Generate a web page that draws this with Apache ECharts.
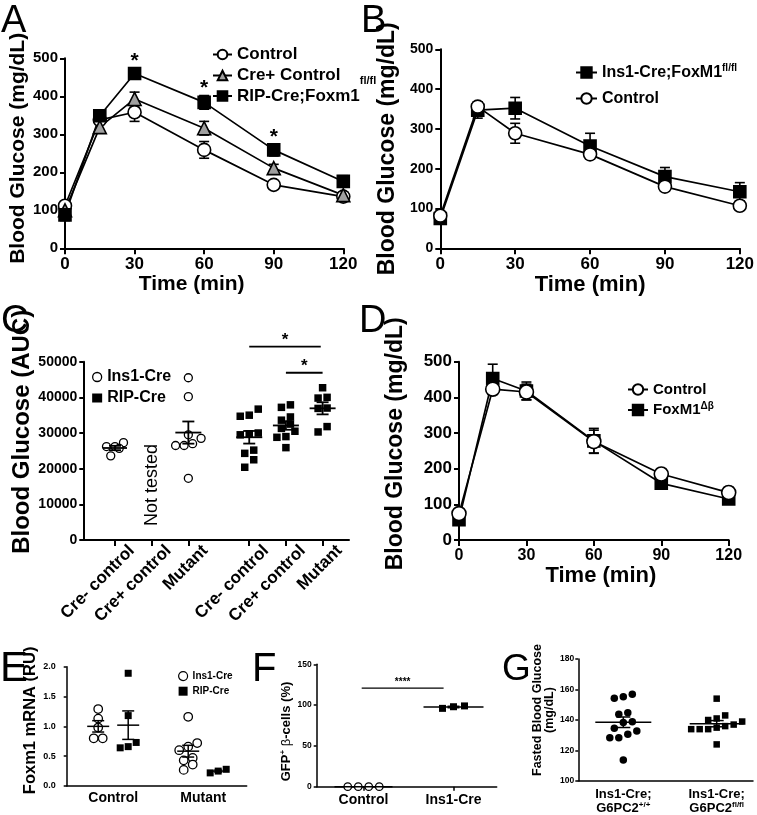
<!DOCTYPE html>
<html><head><meta charset="utf-8">
<script src="https://cdn.jsdelivr.net/npm/echarts@6/dist/echarts.min.js"></script>
<style>html,body{margin:0;padding:0;background:#fff}#c{width:757px;height:815px}</style>
</head><body><div id="c"></div>
<script>
// ---------------- DATA ----------------
const times = [0, 15, 30, 60, 90, 120];
// Panel A
const aControl = [112, 338, 358, 259, 167, 136];
const aControlSem = [8, 12, 24, 22, 8, 8];
const aCrePlus = [100, 319, 393, 316, 211, 140];
const aCrePlusSem = [10, 10, 18, 18, 10, 8];
const aRipCre = [88, 349, 460, 384, 259, 176];
const aRipCreSem = [15, 12, 14, 18, 16, 15];
const aStarIdx = [2, 3, 4];
// Panel B
const bIns1Cre = [75, 347, 352, 257, 180, 142];
const bIns1CreSem = [12, 20, 27, 32, 23, 23];
const bControl = [82, 356, 289, 236, 155, 107];
const bControlSem = [8, 12, 25, 10, 8, 8];
// Panel C (AUC)
const cLabels = ['Cre- control', 'Cre+ control', 'Mutant', 'Cre- control', 'Cre+ control', 'Mutant'];
const cInsCreMinus = [27300, 26200, 26200, 25700, 23600];
const cInsMutant = [45500, 40200, 29500, 28500, 27000, 26500, 26500, 17300];
const cRipCreMinus = [36700, 35000, 34700, 30000, 29800, 29500, 25200, 24300, 22500, 20400];
const cRipCrePlus = [37900, 37200, 34500, 33600, 32500, 31300, 30500, 29000, 28800, 25900];
const cRipMutant = [42700, 40000, 39800, 37000, 36900, 31800, 30300];
// Panel D
const dControl = [74, 423, 415, 276, 185, 133];
const dControlSem = [8, 15, 22, 32, 15, 15];
const dFoxM1 = [57, 453, 418, 278, 159, 115];
const dFoxM1Sem = [8, 40, 25, 35, 8, 8];
// Panel E
const eCats = ['Control', 'Mutant'];
const eInsCtrl = [1.29, 1.13, 0.98, 0.80, 0.80];
const eRipCtrl = [1.89, 1.18, 0.73, 0.66, 0.64];
const eInsMut = [1.16, 0.72, 0.66, 0.60, 0.47, 0.43, 0.36, 0.27];
const eRipMut = [0.22, 0.25, 0.28];
// Panel F
const fCats = ['Control', 'Ins1-Cre'];
const fControl = [0, 0, 0, 0];
const fIns1Cre = [99, 96, 98];
// Panel G
const gCats = ['Ins1-Cre;\nG6PC2{sup|+/+}', 'Ins1-Cre;\nG6PC2{sup|fl/fl}'];
const gWT = [156.9, 155.3, 154.2, 144.8, 143.7, 138.9, 138.4, 134.6, 132.8, 130.6, 128.4, 128.4, 113.8];
const gFlox = [154, 143, 141, 140, 139, 137, 136, 135, 134, 134, 134, 124];

// ---------------- LAYOUT ----------------
const FF = "'Liberation Sans', Arial, Helvetica, sans-serif";
const K = '#000';
const GRIDS = [
  {left: 65, top: 58.3, width: 278.3, height: 190},      // A
  {left: 440.3, top: 49.3, width: 303.4, height: 199},   // B
  {left: 83.3, top: 361.7, width: 265.7, height: 178.3}, // C
  {left: 459, top: 361.7, width: 269.7, height: 178.3},  // D
  {left: 66.7, top: 666.7, width: 180, height: 119.3},   // E
  {left: 316.7, top: 664.3, width: 180, height: 122.4},  // F
  {left: 578.3, top: 659, width: 174.7, height: 122}     // G
];
const cPos = [1, 2, 3, 4.66, 5.66, 6.66];
const cLabelPos = cPos.map(p => p + 0.46);
const ePos = [1, 4];
const fPos = [0.5, 1.5];
const gPos = [0.5, 1.5];

function bold(fs) { return {color: K, fontWeight: 'bold', fontSize: fs, fontFamily: FF}; }
function axBase(gi, lw, tickLen) {
  return {gridIndex: gi, type: 'value', splitLine: {show: false},
    axisLine: {show: true, onZero: false, lineStyle: {color: K, width: lw}},
    axisTick: {show: true, length: tickLen, lineStyle: {color: K, width: lw}}};
}
function pickLabel(pos, labels) {
  return v => { const i = pos.findIndex(p => Math.abs(p - v) < 0.01); return i < 0 ? '' : labels[i]; };
}
function swarm(values, pxPerUnit, d) {
  const idx = values.map((v, i) => i).sort((a, b) => values[a] - values[b]);
  const dx = new Array(values.length).fill(0);
  let row = [];
  const flush = () => { row.forEach((k, j) => { dx[k] = (j - (row.length - 1) / 2) * d; }); row = []; };
  idx.forEach(k => {
    if (row.length && (values[k] - values[row[0]]) * pxPerUnit > d * 0.9) flush();
    row.push(k);
  });
  flush();
  return dx;
}
function lineEl(x1, y1, x2, y2, lw) {
  return {type: 'line', shape: {x1, y1, x2, y2}, style: {stroke: K, lineWidth: lw}};
}
function errSeries(ai, means, sems, cap, lw) {
  return {type: 'custom', xAxisIndex: ai, yAxisIndex: ai, z: 1, silent: true,
    data: times.map((t, i) => [t, means[i], sems[i]]),
    renderItem: (p, api) => {
      const x = api.value(0), m = api.value(1), s = api.value(2);
      const t = api.coord([x, m + s]), b = api.coord([x, m - s]);
      return {type: 'group', children: [
        lineEl(t[0], t[1], b[0], b[1], lw),
        lineEl(t[0] - cap, t[1], t[0] + cap, t[1], lw),
        lineEl(b[0] - cap, b[1], b[0] + cap, b[1], lw)]};
    }};
}
function lineSeries(name, ai, vals, symbol, size, fill) {
  return {type: 'line', name, xAxisIndex: ai, yAxisIndex: ai, z: 3,
    data: times.map((t, i) => [t, vals[i]]), symbol, symbolSize: size,
    itemStyle: {color: fill, borderColor: K, borderWidth: 1.6},
    lineStyle: {color: K, width: 1.7}, emphasis: {disabled: true}};
}
function ptsSeries(name, ai, xc, vals, kind, size, gap) {
  const g = GRIDS[ai];
  const yr = {2: 50000, 4: 2, 5: 150, 6: 80}[ai];
  const dx = swarm(vals, g.height / yr, gap);
  return {type: 'custom', name, xAxisIndex: ai, yAxisIndex: ai, z: 4,
    itemStyle: {color: kind === 'circle' ? '#fff' : K},
    data: vals.map((v, i) => [xc, v, dx[i]]),
    renderItem: (p, api) => {
      const c = api.coord([api.value(0), api.value(1)]);
      const cx = c[0] + api.value(2), cy = c[1];
      if (kind === 'circle') return {type: 'circle', shape: {cx, cy, r: size / 2}, style: {fill: '#fff', stroke: K, lineWidth: 1.3}};
      if (kind === 'dot') return {type: 'circle', shape: {cx, cy, r: size / 2}, style: {fill: K}};
      return {type: 'rect', shape: {x: cx - size / 2, y: cy - size / 2, width: size, height: size}, style: {fill: K}};
    }};
}
function meanSemSeries(ai, xc, vals, half, cap, lw) {
  const n = vals.length, m = vals.reduce((a, b) => a + b, 0) / n;
  const sd = Math.sqrt(vals.reduce((a, b) => a + (b - m) * (b - m), 0) / (n - 1));
  const se = sd / Math.sqrt(n);
  return {type: 'custom', xAxisIndex: ai, yAxisIndex: ai, z: 5, silent: true,
    data: [[xc, m, se]],
    renderItem: (p, api) => {
      const x = api.value(0), mm = api.value(1), s = api.value(2);
      const c = api.coord([x, mm]), t = api.coord([x, mm + s]), b = api.coord([x, mm - s]);
      const ch = [lineEl(c[0] - half, c[1], c[0] + half, c[1], lw)];
      if (s > 0) {
        ch.push(lineEl(t[0], t[1], b[0], b[1], lw));
        ch.push(lineEl(t[0] - cap, t[1], t[0] + cap, t[1], lw));
        ch.push(lineEl(b[0] - cap, b[1], b[0] + cap, b[1], lw));
      }
      return {type: 'group', children: ch};
    }};
}
function sigSeries(ai, items, fs, lw, textGap) {
  // items: [xFrom, xTo, yLine, text]
  return {type: 'custom', xAxisIndex: ai, yAxisIndex: ai, z: 6, silent: true, clip: false,
    data: items.map(d => [d[0], d[1], d[2]]),
    renderItem: (p, api) => {
      const a = api.coord([api.value(0), api.value(2)]), b = api.coord([api.value(1), api.value(2)]);
      return {type: 'group', children: [
        lineEl(a[0], a[1], b[0], b[1], lw),
        {type: 'text', style: {text: items[p.dataIndex][3], x: (a[0] + b[0]) / 2, y: a[1] - textGap,
          align: 'center', verticalAlign: 'middle', font: 'bold ' + fs + 'px ' + FF, fill: K}}]};
    }};
}
function starSeries(ai, means, sems, idxs) {
  return {type: 'custom', xAxisIndex: ai, yAxisIndex: ai, z: 6, silent: true, clip: false,
    data: idxs.map(i => [times[i], means[i] + sems[i]]),
    renderItem: (p, api) => {
      const c = api.coord([api.value(0), api.value(1)]);
      return {type: 'text', style: {text: '*', x: c[0], y: c[1] - 7, align: 'center', verticalAlign: 'middle',
        font: 'bold 21px ' + FF, fill: K}};
    }};
}

// ---------------- AXES ----------------
const timeX = (gi, fs, gap, nfs, pad) => Object.assign(axBase(gi, 2, 6), {
  min: 0, max: 120, interval: 30,
  axisLabel: Object.assign(bold(fs), {margin: 8}),
  name: 'Time (min)', nameLocation: 'middle', nameGap: gap,
  nameTextStyle: Object.assign(bold(nfs), {padding: pad})});
const glucY = (gi, fs, gap, nfs, pad) => Object.assign(axBase(gi, 2, 5), {
  min: 0, max: 500, interval: 100,
  axisLabel: Object.assign(bold(fs), {margin: 7}),
  name: 'Blood Glucose (mg/dL)', nameLocation: 'middle', nameRotate: 90, nameGap: gap,
  nameTextStyle: Object.assign(bold(nfs), {padding: pad})});

const xAxes = [
  timeX(0, 17, 22, 21, [0, 25, 0, 0]),
  timeX(1, 17, 21, 22, [0, 0, 0, 0]),
  Object.assign(axBase(2, 2, 6), {min: 0.136, max: 7.38,
    axisTick: {show: true, length: 6, lineStyle: {color: K, width: 2}, customValues: cPos},
    axisLabel: Object.assign(bold(17), {rotate: 45, margin: 8, customValues: cLabelPos, formatter: pickLabel(cLabelPos, cLabels)})}),
  timeX(3, 16, 24, 22, [0, 0, 0, 14]),
  Object.assign(axBase(4, 1.5, 4), {min: -0.55, max: 5.45,
    axisTick: {show: false},
    axisLabel: Object.assign(bold(14), {margin: 5, customValues: ePos, formatter: pickLabel(ePos, eCats)})}),
  Object.assign(axBase(5, 1.5, 4), {min: -0.02, max: 1.98,
    axisTick: {show: true, length: 4, lineStyle: {color: K, width: 1.5}, customValues: fPos},
    axisLabel: Object.assign(bold(14), {margin: 6, customValues: fPos, formatter: pickLabel(fPos, fCats)})}),
  Object.assign(axBase(6, 1.5, 4), {min: 0.018, max: 1.889,
    axisTick: {show: false},
    axisLabel: Object.assign(bold(13), {margin: 6, lineHeight: 14, customValues: gPos, formatter: pickLabel(gPos, gCats),
      rich: {sup: {fontSize: 8, fontWeight: 'bold', fontFamily: FF, color: K, padding: [0, 0, 7, 0]}}})})
];
const yAxes = [
  glucY(0, 15, 34, 21, [0, 0, 0, 10]),
  glucY(1, 14, 41, 23, [0, 0, 0, 0]),
  Object.assign(axBase(2, 2, 4), {min: 0, max: 50000, interval: 10000,
    axisLabel: Object.assign(bold(14), {margin: 6, formatter: v => String(v)}),
    name: 'Blood Glucose (AUC)', nameLocation: 'middle', nameRotate: 90, nameGap: 48,
    nameTextStyle: Object.assign(bold(24), {padding: [0, 0, 0, 38]})}),
  glucY(3, 17, 52, 23, [0, 0, 0, 14]),
  Object.assign(axBase(4, 1.5, 3), {min: 0, max: 2, interval: 0.5,
    axisLabel: Object.assign(bold(9), {margin: 11, formatter: v => v.toFixed(1)}),
    name: 'Foxm1 mRNA (RU)', nameLocation: 'middle', nameRotate: 90, nameGap: 21,
    nameTextStyle: Object.assign(bold(16.5), {padding: [0, 0, 0, 12]})}),
  Object.assign(axBase(5, 1.5, 3), {min: 0, max: 150, interval: 50,
    axisLabel: Object.assign(bold(8.5), {margin: 5}),
    name: '{b|GFP}{sup|+}{g| β}{b|-cells (%)}', nameLocation: 'middle', nameRotate: 90, nameGap: 22,
    nameTextStyle: {padding: [0, 12, 0, 0], rich: {
      b: bold(13), g: {color: K, fontSize: 13, fontFamily: FF},
      sup: {color: K, fontSize: 8, fontWeight: 'bold', fontFamily: FF, padding: [0, 0, 8, 0]}}}}),
  Object.assign(axBase(6, 1.5, 3), {min: 100, max: 180, interval: 20,
    axisLabel: Object.assign(bold(8.5), {margin: 4}),
    name: 'Fasted Blood Glucose\n(mg/dL)', nameLocation: 'middle', nameRotate: 90, nameGap: 10,
    nameTextStyle: Object.assign(bold(12.5), {lineHeight: 12, padding: [0, 0, 0, 20]})})
];

// ---------------- SERIES ----------------
const series = [
  // A
  errSeries(0, aControl, aControlSem, 5, 1.6),
  errSeries(0, aCrePlus, aCrePlusSem, 5, 1.6),
  errSeries(0, aRipCre, aRipCreSem, 5, 1.6),
  lineSeries('Control', 0, aControl, 'circle', 13, '#fff'),
  lineSeries('Cre+ Control', 0, aCrePlus, 'triangle', 13, '#a0a0a0'),
  lineSeries('RIP-Cre;Foxm1', 0, aRipCre, 'rect', 12, K),
  starSeries(0, aRipCre, aRipCreSem, aStarIdx),
  // B
  errSeries(1, bIns1Cre, bIns1CreSem, 5, 1.6),
  errSeries(1, bControl, bControlSem, 5, 1.6),
  lineSeries('Ins1-Cre;FoxM1', 1, bIns1Cre, 'rect', 12, K),
  lineSeries('Control', 1, bControl, 'circle', 13, '#fff'),
  // C
  ptsSeries('Ins1-Cre', 2, cPos[0], cInsCreMinus, 'circle', 8, 8.5),
  ptsSeries('Ins1-Cre', 2, cPos[2], cInsMutant, 'circle', 8, 8.5),
  ptsSeries('RIP-Cre', 2, cPos[3], cRipCreMinus, 'rect', 7.5, 9),
  ptsSeries('RIP-Cre', 2, cPos[4], cRipCrePlus, 'rect', 7.5, 9),
  ptsSeries('RIP-Cre', 2, cPos[5], cRipMutant, 'rect', 7.5, 9),
  meanSemSeries(2, cPos[0], cInsCreMinus, 12, 6, 1.8),
  meanSemSeries(2, cPos[2], cInsMutant, 13, 6, 1.8),
  meanSemSeries(2, cPos[3], cRipCreMinus, 13, 6, 1.8),
  meanSemSeries(2, cPos[4], cRipCrePlus, 13, 6, 1.8),
  meanSemSeries(2, cPos[5], cRipMutant, 13, 6, 1.8),
  sigSeries(2, [[cPos[3], cPos[5] - 0.05, 54200, '*'], [cPos[4], cPos[5], 46900, '*']], 17, 1.8, 6),
  {type: 'custom', xAxisIndex: 2, yAxisIndex: 2, silent: true, data: [[cPos[1], 15400]],
    renderItem: (p, api) => {
      const c = api.coord([api.value(0), api.value(1)]);
      return {type: 'text', x: c[0], y: c[1], rotation: Math.PI / 2,
        style: {text: 'Not tested', x: 0, y: 0, align: 'center', verticalAlign: 'middle', font: '18px ' + FF, fill: K}};
    }},
  // D
  errSeries(3, dControl, dControlSem, 5, 1.6),
  errSeries(3, dFoxM1, dFoxM1Sem, 5, 1.6),
  lineSeries('FoxM1', 3, dFoxM1, 'rect', 12, K),
  lineSeries('Control', 3, dControl, 'circle', 14, '#fff'),
  // E
  ptsSeries('Ins1-Cre', 4, ePos[0] - 0.5, eInsCtrl, 'circle', 8.5, 9),
  ptsSeries('RIP-Cre', 4, ePos[0] + 0.5, eRipCtrl, 'rect', 7, 8),
  ptsSeries('Ins1-Cre', 4, ePos[1] - 0.5, eInsMut, 'circle', 8.5, 9),
  ptsSeries('RIP-Cre', 4, ePos[1] + 0.5, eRipMut, 'rect', 7, 8),
  meanSemSeries(4, ePos[0] - 0.5, eInsCtrl, 11, 6, 1.5),
  meanSemSeries(4, ePos[0] + 0.5, eRipCtrl, 11, 6, 1.5),
  meanSemSeries(4, ePos[1] - 0.5, eInsMut, 11, 6, 1.5),
  meanSemSeries(4, ePos[1] + 0.5, eRipMut, 8, 4, 1.5),
  // F
  ptsSeries('F control', 5, fPos[0], fControl, 'circle', 7.5, 10.5),
  ptsSeries('F ins1', 5, fPos[1], fIns1Cre, 'rect', 7, 11),
  meanSemSeries(5, fPos[0], fControl, 29, 6, 1.5),
  meanSemSeries(5, fPos[1], fIns1Cre, 30, 6, 1.5),
  sigSeries(5, [[fPos[0] - 0.02, fPos[1] - 0.11, 120.7, '****']], 10, 1.3, 6),
  // G
  ptsSeries('G wt', 6, gPos[0], gWT, 'dot', 7.5, 9),
  ptsSeries('G fl', 6, gPos[1], gFlox, 'rect', 6.5, 8.5),
  meanSemSeries(6, gPos[0], gWT, 28, 7, 1.5),
  meanSemSeries(6, gPos[1], gFlox, 27, 7, 1.5)
];
series.forEach(s => { s.animation = false; });

// ---------------- LEGENDS ----------------
const supRich = (fs, raise) => ({sup: {fontSize: fs, fontWeight: 'bold', fontFamily: FF, color: K, padding: [0, 0, raise, 0]}});
const legends = [
  {left: 207, top: 41, orient: 'vertical', itemGap: 4, itemWidth: 19, itemHeight: 12,
    data: ['Control', 'Cre+ Control'],
    textStyle: bold(17)},
  {left: 207, top: 70.5, orient: 'vertical', itemWidth: 19, itemHeight: 12,
    data: ['RIP-Cre;Foxm1'],
    formatter: n => n + '{sup|fl/fl}',
    textStyle: Object.assign(bold(17), {rich: supRich(11, 30)})},
  {left: 570, top: 58, orient: 'vertical', itemGap: 10, itemWidth: 21, itemHeight: 13,
    data: ['Ins1-Cre;FoxM1', 'Control'],
    formatter: n => n === 'Ins1-Cre;FoxM1' ? n + '{sup|fl/fl}' : n,
    textStyle: Object.assign(bold(16), {rich: supRich(10, 9)})},
  {left: 87, top: 364, orient: 'vertical', itemGap: 5, itemWidth: 10, itemHeight: 9,
    data: [{name: 'Ins1-Cre', icon: 'circle', itemStyle: {color: '#fff', borderColor: K, borderWidth: 1.3}},
           {name: 'RIP-Cre', icon: 'rect', itemStyle: {color: K}}],
    textStyle: bold(16)},
  {left: 622, top: 377, orient: 'vertical', itemGap: 4, itemWidth: 20, itemHeight: 13,
    data: ['Control', 'FoxM1'],
    formatter: n => n === 'FoxM1' ? n + '{sup|Δβ}' : n,
    textStyle: Object.assign(bold(15), {rich: supRich(10, 8)})},
  {left: 173, top: 666, orient: 'vertical', itemGap: 5, itemWidth: 9, itemHeight: 9,
    data: [{name: 'Ins1-Cre', icon: 'circle', itemStyle: {color: '#fff', borderColor: K, borderWidth: 1.2}},
           {name: 'RIP-Cre', icon: 'rect', itemStyle: {color: K}}],
    textStyle: bold(10)}
];
legends.forEach(l => { l.selectedMode = false; });

// ---------------- PANEL LETTERS ----------------
const letters = [['A', 1, 3, 38], ['B', 361, 3, 38], ['C', 1, 303, 38], ['D', 359, 303, 38],
  ['E', 0, 648, 42], ['F', 252, 650, 40], ['G', 502, 651, 37]];
const graphic = letters.map(l => ({type: 'text', left: l[1], top: l[2], silent: true,
  style: {text: l[0], font: l[3] + 'px ' + FF, fill: K}}));

const chart = echarts.init(document.getElementById('c'), null, {renderer: 'canvas'});
chart.setOption({
  animation: false,
  backgroundColor: '#fff',
  textStyle: {fontFamily: FF},
  grid: GRIDS,
  xAxis: xAxes,
  yAxis: yAxes,
  legend: legends,
  graphic: graphic,
  series: series
});
</script></body></html>
